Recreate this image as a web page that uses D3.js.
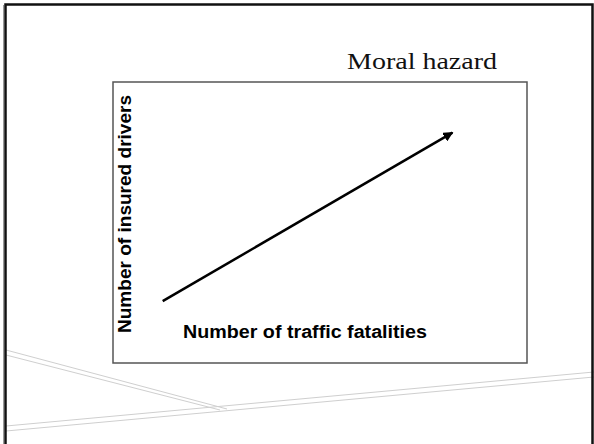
<!DOCTYPE html>
<html>
<head>
<meta charset="utf-8">
<script src="https://cdn.jsdelivr.net/npm/d3@7"></script>
<style>
  body { margin: 0; background: #fff; }
  svg { display: block; }
</style>
</head>
<body>
<svg></svg>
<script>
const size = {w: 594, h: 444};
const svg = d3.select('svg').attr('width', size.w).attr('height', size.h);

// chart content
const title = 'Moral hazard';
const xLabel = 'Number of traffic fatalities';
const yLabel = 'Number of insured drivers';
// the trend arrow, in chart units (0-100 on both axes)
const trendX = [12, 82];
const trendY = [22, 82];

// plot box
const box = {l: 113, t: 82, r: 527, b: 363};

const x = d3.scaleLinear().domain([0, 100]).range([box.l, box.r]);
const y = d3.scaleLinear().domain([0, 100]).range([box.b, box.t]);

// --------- SLIDE DECOR ----------
const decor = svg.append('g').classed('decor', true);
decor.selectAll('line')
    .data([
        [6, 350, 227, 409],
        [6, 355, 220, 410],
        [6, 426, 594, 372],
        [6, 431, 594, 377]
    ])
    .join('line')
    .attr('x1', d => d[0]).attr('y1', d => d[1])
    .attr('x2', d => d[2]).attr('y2', d => d[3])
    .attr('stroke', '#cfcfcf')
    .attr('stroke-width', 1);

// slide frame
decor.append('line')
    .attr('x1', 3.5).attr('y1', 5).attr('x2', 3.5).attr('y2', size.h)
    .attr('stroke', '#999').attr('stroke-width', 1);
decor.append('rect')
    .attr('x', 5.5).attr('y', 4.5)
    .attr('width', 587).attr('height', 500)
    .attr('fill', 'none')
    .attr('stroke', '#111')
    .attr('stroke-width', 2.5);

// --------- TITLE ----------
svg.append('text')
    .attr('x', 497).attr('y', 69)
    .attr('text-anchor', 'end')
    .attr('font-family', '"Liberation Serif", "DejaVu Serif", serif')
    .attr('font-size', 24)
    .attr('textLength', 150)
    .attr('lengthAdjust', 'spacingAndGlyphs')
    .attr('fill', '#111')
    .text(title);

// --------- PLOT BOX ----------
svg.append('rect')
    .attr('x', x(0)).attr('y', y(100))
    .attr('width', x(100) - x(0))
    .attr('height', y(0) - y(100))
    .attr('fill', '#fff')
    .attr('stroke', '#555')
    .attr('stroke-width', 1.5);

// arrow head marker
svg.append('defs').append('marker')
    .attr('id', 'head')
    .attr('viewBox', '0 0 10 10')
    .attr('refX', 9).attr('refY', 5)
    .attr('markerWidth', 4).attr('markerHeight', 4)
    .attr('orient', 'auto')
    .append('path')
    .attr('d', 'M0,0 L10,5 L0,10 Z')
    .attr('fill', '#000');

const pts = trendX.map((v, i) => [v, trendY[i]]);
svg.append('path')
    .datum(pts)
    .attr('d', d3.line().x(d => x(d[0])).y(d => y(d[1])))
    .attr('fill', 'none')
    .attr('stroke', '#000')
    .attr('stroke-width', 2.5)
    .attr('marker-end', 'url(#head)');

// axis labels
svg.append('text')
    .attr('x', 183).attr('y', 338)
    .attr('font-family', '"Liberation Sans", Arial, sans-serif')
    .attr('font-weight', 'bold')
    .attr('font-size', 18)
    .attr('textLength', 244)
    .attr('lengthAdjust', 'spacingAndGlyphs')
    .text(xLabel);

svg.append('text')
    .attr('transform', 'translate(131,333) rotate(-90)')
    .attr('font-family', '"Liberation Sans", Arial, sans-serif')
    .attr('font-weight', 'bold')
    .attr('font-size', 18)
    .attr('textLength', 238)
    .attr('lengthAdjust', 'spacingAndGlyphs')
    .text(yLabel);
</script>
</body>
</html>
